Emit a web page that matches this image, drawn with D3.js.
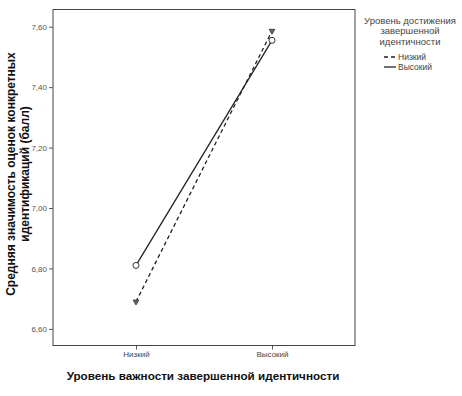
<!DOCTYPE html>
<html><head><meta charset="utf-8">
<script src="https://cdn.jsdelivr.net/npm/d3@7/dist/d3.min.js"></script>
<style>body{margin:0;background:#fff}svg{display:block}text{font-family:"Liberation Sans",Arial,sans-serif}</style>
</head><body>
<script>
const categories = ["Низкий", "Высокий"];
const seriesNames = ["Низкий", "Высокий"];
const lowValues = [6.69, 7.586];
const highValues = [6.81, 7.555];
const yTicks = [6.6, 6.8, 7.0, 7.2, 7.4, 7.6];
const yTitle = ["Средняя значимость оценок конкретных", "идентификаций (балл)"];
const xTitle = "Уровень важности завершенной идентичности";
const legendTitle = ["Уровень достижения", "завершенной", "идентичности"];

const W = 462, H = 396;
const L = 53, R = 355, T = 9.5, B = 345.5;
const svg = d3.select("body").append("svg").attr("width", W).attr("height", H);

const x = d3.scalePoint().domain(categories).range([L, R]).padding(0.61);
const y = d3.scaleLinear().domain([6.545, 7.657]).range([B, T]);

// frame
svg.append("rect").attr("x", L).attr("y", T).attr("width", R - L).attr("height", B - T)
  .attr("fill", "none").attr("stroke", "#444").attr("stroke-width", 1);

const fmt = d => d3.format(".2f")(d).replace(".", ",");
const yAxis = svg.append("g").attr("transform", `translate(${L},0)`)
  .call(d3.axisLeft(y).tickValues(yTicks).tickFormat(fmt).tickSize(4).tickPadding(2));
yAxis.select(".domain").remove();
yAxis.selectAll("line").attr("stroke", "#555");
yAxis.selectAll("text").attr("fill", "#555").style("font-size", "8px").style("font-family", '"Liberation Sans",Arial,sans-serif');

const xAxis = svg.append("g").attr("transform", `translate(0,${B})`)
  .call(d3.axisBottom(x).tickSize(4).tickPadding(2));
xAxis.select(".domain").remove();
xAxis.selectAll("line").attr("stroke", "#555");
xAxis.selectAll("text").attr("fill", "#444").style("font-size", "8px").style("font-family", '"Liberation Sans",Arial,sans-serif');

// lines
const line = d3.line().x((d, i) => x(categories[i])).y(d => y(d));
svg.append("path").datum(lowValues).attr("d", line).attr("fill", "none")
  .attr("stroke", "#222").attr("stroke-width", 1.3).attr("stroke-dasharray", "4,3");
svg.append("path").datum(highValues).attr("d", line).attr("fill", "none")
  .attr("stroke", "#222").attr("stroke-width", 1.3);

// markers
svg.selectAll(".c").data(highValues).enter().append("circle")
  .attr("cx", (d, i) => x(categories[i])).attr("cy", d => y(d)).attr("r", 3)
  .attr("fill", "#fff").attr("stroke", "#333").attr("stroke-width", 1);
const tri = d3.symbol().type(d3.symbolTriangle).size(14);
svg.selectAll(".t").data(lowValues).enter().append("path")
  .attr("d", tri).attr("transform", (d, i) => `translate(${x(categories[i])},${y(d)}) rotate(180)`)
  .attr("fill", "#666").attr("stroke", "#333").attr("stroke-width", 0.8);

// y title
const yt = svg.append("text").attr("transform", `translate(11,${174}) rotate(-90)`)
  .attr("text-anchor", "middle").style("font-size", "12px").style("font-weight", "bold").attr("fill", "#111");
yTitle.forEach((s, i) => yt.append("tspan").attr("x", 0).attr("dy", i === 0 ? "0.35em" : 14).text(s));

// x title
svg.append("text").attr("x", 203).attr("y", 380).attr("text-anchor", "middle")
  .style("font-size", "11.7px").style("font-weight", "bold").attr("fill", "#111").text(xTitle);

// legend
const lg = svg.append("g");
legendTitle.forEach((s, i) => lg.append("text").attr("x", 410).attr("y", 23.5 + i * 10.5)
  .attr("text-anchor", "middle").style("font-size", "9.5px").attr("fill", "#444").text(s));
const items = [{name: seriesNames[0], dash: "4,3"}, {name: seriesNames[1], dash: null}];
items.forEach((it, i) => {
  const yy = 57 + i * 10;
  lg.append("line").attr("x1", 384).attr("x2", 396).attr("y1", yy).attr("y2", yy)
    .attr("stroke", "#222").attr("stroke-width", 1.3).attr("stroke-dasharray", it.dash);
  lg.append("text").attr("x", 398).attr("y", yy + 3).style("font-size", "8.5px").attr("fill", "#444").text(it.name);
});
</script>
</body></html>
